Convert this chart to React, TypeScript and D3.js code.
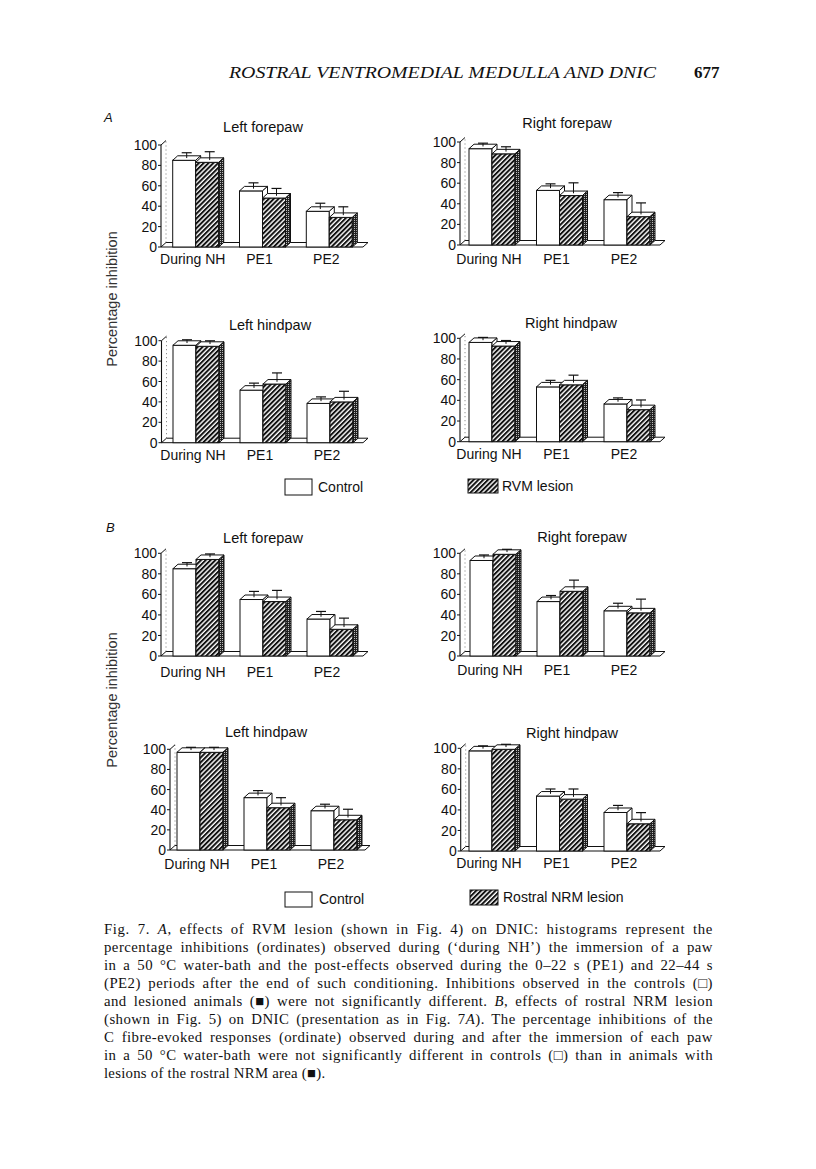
import * as d3 from "d3";
import { useEffect, useRef } from "react";

// categories and ticks shared by all eight histograms
const categories = ["During NH", "PE1", "PE2"];
const yTicks = [0, 20, 40, 60, 80, 100];

// A: RVM lesion
const aLeftForeControl = [85, 55, 35];
const aLeftForeControlErr = [3, 3.5, 3.5];
const aLeftForeLesion = [83, 48, 29];
const aLeftForeLesionErr = [6, 5, 6];

const aRightForeControl = [93.5, 53, 44];
const aRightForeControlErr = [1, 2, 2.5];
const aRightForeLesion = [88.5, 48, 27.5];
const aRightForeLesionErr = [2.5, 8, 9];

const aLeftHindControl = [95.5, 51.5, 38.5];
const aLeftHindControlErr = [1, 2.5, 2];
const aLeftHindLesion = [94.5, 57.5, 40];
const aLeftHindLesionErr = [1, 6.5, 6];

const aRightHindControl = [96, 53, 36.5];
const aRightHindControlErr = [0.5, 2, 1.5];
const aRightHindLesion = [92.5, 55, 31];
const aRightHindLesionErr = [1, 5, 5];

// B: rostral NRM lesion
const bLeftForeControl = [85, 55, 36];
const bLeftForeControlErr = [1.5, 3.5, 3];
const bLeftForeLesion = [94, 53, 26];
const bLeftForeLesionErr = [1, 6.5, 6.5];

const bRightForeControl = [93, 53, 44];
const bRightForeControlErr = [1, 1.5, 3];
const bRightForeLesion = [99, 63, 42];
const bRightForeLesionErr = [0.5, 6.5, 9];

const bLeftHindControl = [97, 52, 39];
const bLeftHindControlErr = [0.5, 2.5, 2];
const bLeftHindLesion = [97, 42, 30];
const bLeftHindLesionErr = [0.5, 5.5, 6];

const bRightHindControl = [97.5, 53.5, 37.5];
const bRightHindControlErr = [0.5, 2.5, 2.5];
const bRightHindLesion = [99, 50.5, 26.5];
const bRightHindLesionErr = [0.5, 5.5, 6.5];

const captionLines = [
  ["Fig. 7. ", "i:A", ", effects of RVM lesion (shown in Fig. 4) on DNIC: histograms represent the"],
  ["percentage inhibitions (ordinates) observed during (\u2018during NH\u2019) the immersion of a paw"],
  ["in a 50 \u00B0C water-bath and the post-effects observed during the 0\u201322 s (PE1) and 22\u201344 s"],
  ["(PE2) periods after the end of such conditioning. Inhibitions observed in the controls (\u25A1)"],
  ["and lesioned animals (\u25A0) were not significantly different. ", "i:B", ", effects of rostral NRM lesion"],
  ["(shown in Fig. 5) on DNIC (presentation as in Fig. 7", "i:A", "). The percentage inhibitions of the"],
  ["C fibre-evoked responses (ordinate) observed during and after the immersion of each paw"],
  ["in a 50 \u00B0C water-bath were not significantly different in controls (\u25A1) than in animals with"],
  ["lesions of the rostral NRM area (\u25A0)."]
];

const panels = [
  { title: "Left forepaw", c: aLeftForeControl, ce: aLeftForeControlErr, l: aLeftForeLesion, le: aLeftForeLesionErr,
    axisX: 161, y0: 247, y100: 145, c0: 195.7, c2: 329.3, floorEnd: 363, tx: 263, ty: 132, ly: 264 },
  { title: "Right forepaw", c: aRightForeControl, ce: aRightForeControlErr, l: aRightForeLesion, le: aRightForeLesionErr,
    axisX: 460, y0: 245, y100: 142, c0: 492, c2: 627, floorEnd: 660, tx: 567, ty: 128, ly: 264 },
  { title: "Left hindpaw", c: aLeftHindControl, ce: aLeftHindControlErr, l: aLeftHindLesion, le: aLeftHindLesionErr,
    axisX: 161.5, y0: 442.7, y100: 340.7, c0: 196, c2: 330, floorEnd: 363, tx: 270, ty: 330, ly: 460 },
  { title: "Right hindpaw", c: aRightHindControl, ce: aRightHindControlErr, l: aRightHindLesion, le: aRightHindLesionErr,
    axisX: 460, y0: 441.7, y100: 338.3, c0: 492, c2: 627, floorEnd: 660, tx: 571, ty: 328, ly: 459 },
  { title: "Left forepaw", c: bLeftForeControl, ce: bLeftForeControlErr, l: bLeftForeLesion, le: bLeftForeLesionErr,
    axisX: 161, y0: 656, y100: 553.3, c0: 196, c2: 330, floorEnd: 363, tx: 263, ty: 543, ly: 677 },
  { title: "Right forepaw", c: bRightForeControl, ce: bRightForeControlErr, l: bRightForeLesion, le: bRightForeLesionErr,
    axisX: 460, y0: 656, y100: 553.3, c0: 493, c2: 627, floorEnd: 660, tx: 582, ty: 542, ly: 675 },
  { title: "Left hindpaw", c: bLeftHindControl, ce: bLeftHindControlErr, l: bLeftHindLesion, le: bLeftHindLesionErr,
    axisX: 170, y0: 850, y100: 749.3, c0: 200, c2: 334, floorEnd: 365, tx: 266, ty: 737, ly: 869 },
  { title: "Right hindpaw", c: bRightHindControl, ce: bRightHindControlErr, l: bRightHindLesion, le: bRightHindLesionErr,
    axisX: 460.7, y0: 851, y100: 748.3, c0: 492, c2: 627, floorEnd: 660, tx: 572, ty: 738, ly: 868 }
];

const SANS = "'Liberation Sans', Arial, sans-serif";
const SERIF = "'Liberation Serif', 'Times New Roman', serif";

export default function App() {
  const ref = useRef(null);

  useEffect(() => {
    const svg = d3.select(ref.current);
    svg.selectAll("*").remove();

    const defs = svg.append("defs");
    const hatch = defs.append("pattern")
      .attr("id", "hatch")
      .attr("patternUnits", "userSpaceOnUse")
      .attr("width", 3.4)
      .attr("height", 10)
      .attr("patternTransform", "rotate(45)");
    hatch.append("rect").attr("width", 3.4).attr("height", 10).attr("fill", "#fff");
    hatch.append("line").attr("x1", 1).attr("y1", 0).attr("x2", 1).attr("y2", 10)
      .attr("stroke", "#111").attr("stroke-width", 2);

    const stip = defs.append("pattern")
      .attr("id", "stip")
      .attr("patternUnits", "userSpaceOnUse")
      .attr("width", 2).attr("height", 2);
    stip.append("rect").attr("width", 2).attr("height", 2).attr("fill", "#222");
    stip.append("rect").attr("width", 1).attr("height", 1).attr("fill", "#bbb");

    const barW = 23;
    const dx = 5;
    const dy = 4.5;

    panels.forEach(p => {
      const g = svg.append("g");
      const y = d3.scaleLinear().domain([0, 100]).range([p.y0, p.y100]);
      const x = d3.scalePoint().domain(categories).range([p.c0, p.c2]);

      // floor
      g.append("polygon")
        .attr("points", [[p.axisX, p.y0], [p.floorEnd, p.y0], [p.floorEnd + dx, p.y0 - dy], [p.axisX + dx, p.y0 - dy]].join(" "))
        .attr("fill", "#fff").attr("stroke", "#111").attr("stroke-width", 1);

      // back wall edge
      g.append("line")
        .attr("x1", p.axisX + dx).attr("y1", p.y0 - dy)
        .attr("x2", p.axisX + dx).attr("y2", y(100) - dy)
        .attr("stroke", "#555").attr("stroke-width", 0.8).attr("stroke-dasharray", "1,3");

      // y axis
      g.append("line")
        .attr("x1", p.axisX).attr("y1", p.y0).attr("x2", p.axisX).attr("y2", y(100))
        .attr("stroke", "#111").attr("stroke-width", 1.1);
      g.append("line")
        .attr("x1", p.axisX).attr("y1", y(100)).attr("x2", p.axisX + dx).attr("y2", y(100) - dy)
        .attr("stroke", "#111").attr("stroke-width", 1);

      yTicks.forEach(t => {
        g.append("line")
          .attr("x1", p.axisX - 3).attr("x2", p.axisX).attr("y1", y(t)).attr("y2", y(t))
          .attr("stroke", "#111");
        g.append("text")
          .attr("x", p.axisX - 4).attr("y", y(t)).attr("dy", "0.36em")
          .attr("text-anchor", "end")
          .style("font-family", SANS).style("font-size", "14px").attr("fill", "#111")
          .text(t);
      });

      const drawBar = (x0, v, fill, side) => {
        const top = y(v);
        g.append("rect")
          .attr("x", x0).attr("y", top).attr("width", barW).attr("height", p.y0 - top)
          .attr("fill", fill).attr("stroke", "#111").attr("stroke-width", 1);
        g.append("polygon")
          .attr("points", [[x0, top], [x0 + dx, top - dy], [x0 + barW + dx, top - dy], [x0 + barW, top]].join(" "))
          .attr("fill", "#fff").attr("stroke", "#111").attr("stroke-width", 1);
        g.append("polygon")
          .attr("points", [[x0 + barW, top], [x0 + barW + dx, top - dy], [x0 + barW + dx, p.y0 - dy], [x0 + barW, p.y0]].join(" "))
          .attr("fill", side).attr("stroke", "#111").attr("stroke-width", 1);
      };

      const drawErr = (x0, v, e) => {
        const xe = x0 + barW / 2 + dx / 2;
        const yTop = y(v + e) - dy;
        g.append("line")
          .attr("x1", xe).attr("x2", xe).attr("y1", y(v) - dy / 2).attr("y2", yTop)
          .attr("stroke", "#111").attr("stroke-width", 1);
        g.append("line")
          .attr("x1", xe - 5).attr("x2", xe + 5).attr("y1", yTop).attr("y2", yTop)
          .attr("stroke", "#111").attr("stroke-width", 1.2);
      };

      categories.forEach((cat, i) => {
        const cx = x(cat);
        drawBar(cx - barW, p.c[i], "#fff", "#fff");
        drawBar(cx, p.l[i], "url(#hatch)", "url(#stip)");
      });
      categories.forEach((cat, i) => {
        const cx = x(cat);
        drawErr(cx - barW, p.c[i], p.ce[i]);
        drawErr(cx, p.l[i], p.le[i]);
      });

      // category labels
      categories.forEach(cat => {
        g.append("text")
          .attr("x", x(cat) - 3).attr("y", p.ly)
          .attr("text-anchor", "middle")
          .style("font-family", SANS).style("font-size", "14px").attr("fill", "#111")
          .text(cat);
      });

      // title
      g.append("text")
        .attr("x", p.tx).attr("y", p.ty)
        .attr("text-anchor", "middle")
        .style("font-family", SANS).style("font-size", "14.5px").attr("fill", "#111")
        .text(p.title);
    });

    // y axis titles
    [299, 700].forEach(cy => {
      svg.append("text")
        .attr("transform", `translate(117, ${cy}) rotate(-90)`)
        .attr("text-anchor", "middle")
        .style("font-family", SANS).style("font-size", "14.5px").attr("fill", "#333")
        .text("Percentage inhibition");
    });

    // section letters
    [["A", 104, 122], ["B", 106, 532]].forEach(([t, lx, ly]) => {
      svg.append("text")
        .attr("x", lx).attr("y", ly)
        .style("font-family", SANS).style("font-size", "13px").style("font-style", "italic")
        .attr("fill", "#111")
        .text(t);
    });

    // legends
    const legends = [
      { x: 285, y: 479, w: 27, h: 16, fill: "#fff", label: "Control", lx: 318, ly: 492 },
      { x: 468, y: 479, w: 30, h: 14, fill: "url(#hatch)", label: "RVM lesion", lx: 502, ly: 491 },
      { x: 285, y: 892, w: 27, h: 15, fill: "#fff", label: "Control", lx: 319, ly: 904 },
      { x: 470, y: 890, w: 28, h: 15, fill: "url(#hatch)", label: "Rostral NRM lesion", lx: 503, ly: 902 }
    ];
    legends.forEach(d => {
      svg.append("rect")
        .attr("x", d.x).attr("y", d.y).attr("width", d.w).attr("height", d.h)
        .attr("fill", d.fill).attr("stroke", "#111").attr("stroke-width", 1);
      svg.append("text")
        .attr("x", d.lx).attr("y", d.ly)
        .style("font-family", SANS).style("font-size", "14px").attr("fill", "#111")
        .text(d.label);
    });

    // running head
    svg.append("text")
      .attr("x", 229).attr("y", 78)
      .attr("textLength", 427).attr("lengthAdjust", "spacingAndGlyphs")
      .style("font-family", SERIF).style("font-size", "17px").style("font-style", "italic")
      .attr("fill", "#111")
      .text("ROSTRAL VENTROMEDIAL MEDULLA AND DNIC");
    svg.append("text")
      .attr("x", 694).attr("y", 78)
      .style("font-family", SERIF).style("font-size", "17px").style("font-weight", "bold")
      .attr("fill", "#111")
      .text("677");

    // caption, justified: half the slack as letter spacing, half as word spacing
    const lineWidth = 609;
    captionLines.forEach((parts, i) => {
      const t = svg.append("text")
        .attr("x", 104).attr("y", 934 + i * 18)
        .style("font-family", SERIF).style("font-size", "14.8px").attr("fill", "#111");
      parts.forEach(s => {
        if (s.startsWith("i:")) {
          t.append("tspan").style("font-style", "italic").text(s.slice(2));
        } else {
          t.append("tspan").text(s);
        }
      });
      const plain = parts.map(s => (s.startsWith("i:") ? s.slice(2) : s)).join("");
      if (i < captionLines.length - 1) {
        const w = t.node().getComputedTextLength();
        const spaces = plain.split(" ").length - 1;
        const slack = lineWidth - w;
        if (slack > 0) {
          const ls = (slack * 0.5) / (plain.length - 1);
          const ws = (slack - ls * plain.length) / spaces;
          t.style("letter-spacing", `${ls}px`).style("word-spacing", `${ws}px`);
        } else {
          t.attr("textLength", lineWidth).attr("lengthAdjust", "spacingAndGlyphs");
        }
      } else {
        t.style("letter-spacing", "0.25px");
      }
    });
  }, []);

  return (
    <svg
      ref={ref}
      width={816}
      height={1169}
      style={{ position: "absolute", left: 0, top: 0, background: "#fff" }}
    ></svg>
  );
}
